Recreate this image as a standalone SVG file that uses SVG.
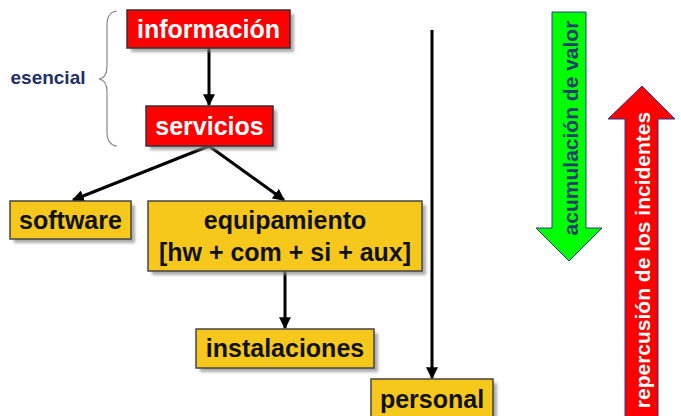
<svg xmlns="http://www.w3.org/2000/svg" width="681" height="416" viewBox="0 0 681 416">
<defs>
<filter id="sh" x="-10%" y="-10%" width="130%" height="140%"><feGaussianBlur stdDeviation="1.5"/></filter>
<marker id="ah" viewBox="0 0 10 10" refX="9" refY="5" markerWidth="4" markerHeight="4" orient="auto" markerUnits="strokeWidth"><path d="M0,0 L10,5 L0,10 z" fill="#000"/></marker>
</defs>
<style>
.r{fill:#ff0000;stroke:#333;stroke-width:1.5}
.y{fill:#f5c81b;stroke:#444;stroke-width:1.5}
.s{fill:#888;opacity:0.7;filter:url(#sh)}
.tw{font-family:"Liberation Sans",Arial,sans-serif;font-weight:bold;font-size:25px;fill:#fff;text-anchor:middle}
.tb{font-family:"Liberation Sans",Arial,sans-serif;font-weight:bold;font-size:25px;fill:#111;text-anchor:middle}
.c{stroke:#000;stroke-width:3;fill:none;marker-end:url(#ah)}
</style>
<rect width="681" height="416" fill="#fff"/>
<g id="esencial">
<text x="48" y="84" font-family="'Liberation Sans',Arial,sans-serif" font-weight="bold" font-size="19" fill="#1f2f6b" text-anchor="middle">esencial</text>
<path d="M117,11 Q107,12 107,25 L107,66 Q107,78 99,79 Q107,80 107,92 L107,132 Q107,145 117,146" fill="none" stroke="#888" stroke-width="1.2"/>
</g>
<g id="connectors">
<line class="c" x1="209" y1="48" x2="209" y2="105"/>
<line class="c" x1="209" y1="146" x2="73" y2="200"/>
<line class="c" x1="209" y1="146" x2="284" y2="200"/>
<line class="c" x1="285" y1="271" x2="285" y2="328"/>
<line class="c" x1="432" y1="30" x2="432" y2="378"/>
</g>
<g id="informacion">
<rect class="s" x="131" y="14" width="163" height="38"/>
<rect class="r" x="127" y="10" width="163" height="38"/>
<text class="tw" x="208.5" y="38">información</text>
</g>
<g id="servicios">
<rect class="s" x="150" y="110" width="127" height="40"/>
<rect class="r" x="146" y="106" width="127" height="40"/>
<text class="tw" x="209.5" y="135">servicios</text>
</g>
<g id="software">
<rect class="s" x="14" y="205" width="121" height="38"/>
<rect class="y" x="10" y="201" width="121" height="38"/>
<text class="tb" x="70.5" y="229">software</text>
</g>
<g id="equipamiento">
<rect class="s" x="152" y="205" width="274" height="70"/>
<rect class="y" x="148" y="201" width="274" height="70"/>
<text class="tb" x="285" y="229">equipamiento</text>
<text class="tb" x="285" y="261">[hw + com + si + aux]</text>
</g>
<g id="instalaciones">
<rect class="s" x="200" y="333" width="178" height="39"/>
<rect class="y" x="196" y="329" width="178" height="39"/>
<text class="tb" x="285" y="357">instalaciones</text>
</g>
<g id="personal">
<rect class="s" x="375" y="383" width="122" height="40"/>
<rect class="y" x="371" y="379" width="122" height="40"/>
<text class="tb" x="432" y="408">personal</text>
</g>
<g id="acumulacion">
<path d="M552,12 L586,12 L586,228 L602,228 L569,261 L536,228 L552,228 Z" fill="#00ff00" stroke="#2a3a8a" stroke-width="1"/>
<text transform="translate(578,128) rotate(-90)" font-family="'Liberation Sans',Arial,sans-serif" font-weight="bold" font-size="21" fill="#1f3f6f" text-anchor="middle">acumulación de valor</text>
</g>
<g id="repercusion">
<path d="M625,417 L625,119 L608,119 L642,86 L675,119 L658,119 L658,417 Z" fill="#ff0000" stroke="#2a3a8a" stroke-width="1"/>
<text transform="translate(650,260) rotate(-90)" font-family="'Liberation Sans',Arial,sans-serif" font-weight="bold" font-size="21" fill="#fff" text-anchor="middle">repercusión de los incidentes</text>
</g>
</svg>
